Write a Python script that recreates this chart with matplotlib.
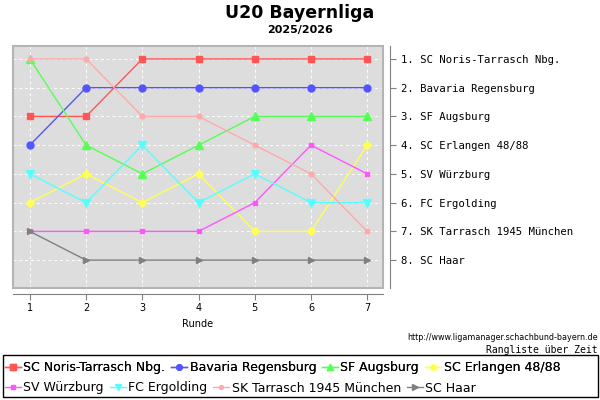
import matplotlib
matplotlib.use("Agg")
import matplotlib.pyplot as plt
from matplotlib.patches import Rectangle

rounds = [1, 2, 3, 4, 5, 6, 7]
teams = ["SC Noris-Tarrasch Nbg.", "Bavaria Regensburg", "SF Augsburg",
         "SC Erlangen 48/88", "SV Würzburg", "FC Ergolding",
         "SK Tarrasch 1945 München", "SC Haar"]
ranks = [
    [3, 3, 1, 1, 1, 1, 1],
    [4, 2, 2, 2, 2, 2, 2],
    [1, 4, 5, 4, 3, 3, 3],
    [6, 5, 6, 5, 7, 7, 4],
    [7, 7, 7, 7, 6, 4, 5],
    [5, 6, 4, 6, 5, 6, 6],
    [1, 1, 3, 3, 4, 5, 7],
    [7, 8, 8, 8, 8, 8, 8],
]
final_table = ["SC Noris-Tarrasch Nbg.", "Bavaria Regensburg", "SF Augsburg",
               "SC Erlangen 48/88", "SV Würzburg", "FC Ergolding",
               "SK Tarrasch 1945 München", "SC Haar"]

colors = ["#ff5555", "#5555ff", "#55ff55", "#ffff55",
          "#ff55ff", "#55ffff", "#ffaaaa", "#808080"]
markers = ["s", "o", "^", "D", "s", "v", "o", ">"]
msizes = [5, 5, 5.5, 4, 3.5, 5.5, 3.5, 5]

fig = plt.figure(figsize=(6, 4), dpi=100)
ax = fig.add_axes([13 / 600, 1 - 288 / 400, 370 / 600, 242 / 400])
ax.set_facecolor("#dddddd")

handles = []
for name, r, c, m, s in zip(teams, ranks, colors, markers, msizes):
    h, = ax.plot(rounds, r, color=c, marker=m, markersize=s, linewidth=1.0,
                 label=name, zorder=3)
    handles.append(h)

ax.set_xlim(0.7, 7.28)
ax.set_ylim(8.97, 0.55)
ax.grid(True, color="white", linestyle=(0, (3, 3)), linewidth=0.7, zorder=1)
ax.set_axisbelow(True)

for side in ["left", "top"]:
    ax.spines[side].set_visible(False)
ax.spines["bottom"].set_position(("outward", 4))
ax.spines["right"].set_position(("outward", 5))
ax.spines["bottom"].set_color("#808080")
ax.spines["right"].set_color("#808080")
ax.add_patch(Rectangle((0, 0), 1, 1, transform=ax.transAxes, fill=False,
                       edgecolor="#b4b4b4", linewidth=1.5, clip_on=False,
                       zorder=4))

ax.set_xticks(rounds)
ax.set_xticklabels([str(x) for x in rounds], fontsize=7)
ax.tick_params(axis="x", direction="out", length=4, color="#808080", pad=3)
ax.set_xlabel("Runde", fontsize=7, labelpad=4)

ax.yaxis.tick_right()
ax.set_yticks(range(1, 9))
ax.set_yticklabels([f"{i}. {t}" for i, t in enumerate(final_table, 1)],
                   fontsize=7.7, family="DejaVu Sans Mono")
ax.tick_params(axis="y", direction="out", length=4, color="#808080", pad=4)

fig.text(0.5, 1 - 13 / 400, "U20 Bayernliga", ha="center", va="center",
         fontsize=12.5, fontweight="bold")
fig.text(0.5, 1 - 30 / 400, "2025/2026", ha="center", va="center",
         fontsize=8, fontweight="bold")
fig.text(598 / 600, 1 - 337 / 400, "http://www.ligamanager.schachbund-bayern.de",
         ha="right", va="center", fontsize=5.8)
fig.text(598 / 600, 1 - 350 / 400, "Rangliste über Zeit", ha="right",
         va="center", fontsize=7, family="DejaVu Sans Mono")

fig.patches.append(Rectangle((3 / 600, 1 - 397 / 400), 595 / 600, 42 / 400,
                             transform=fig.transFigure, fill=False,
                             edgecolor="black", linewidth=1))
leg_kw = dict(ncol=4, frameon=False, fontsize=9, handlelength=1.25,
              handletextpad=0.2, columnspacing=0.5, borderpad=0,
              borderaxespad=0, loc="center left", markerscale=0.8)
leg1 = fig.legend(handles=handles[:4], bbox_to_anchor=(5 / 600, 1 - 368 / 400),
                  **leg_kw)
fig.add_artist(leg1)
fig.legend(handles=handles[4:], bbox_to_anchor=(5 / 600, 1 - 388 / 400),
           **leg_kw)

fig.savefig("out.png", dpi=100)
